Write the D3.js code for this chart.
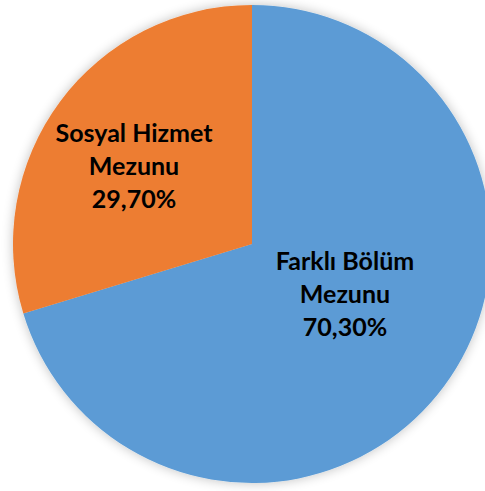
<!DOCTYPE html>
<html>
<head>
<meta charset="utf-8">
<script src="https://cdn.jsdelivr.net/npm/d3@7"></script>
<style>
  body { margin: 0; background: #fff; }
  svg { display: block; }
</style>
</head>
<body>
<div id="chart"></div>
<script>
// chart data
var categories = ["Farklı Bölüm Mezunu", "Sosyal Hizmet Mezunu"];
var values = [70.3, 29.7];
var labelLines = [["Farklı Bölüm", "Mezunu", "70,30%"], ["Sosyal Hizmet", "Mezunu", "29,70%"]];
var colors = ["#5B9BD5", "#ED7D31"];

var width = 485, height = 491;
var cx = 252, cy = 244, radius = 239;

var svg = d3.select("#chart").append("svg")
    .attr("width", width)
    .attr("height", height);

var defs = svg.append("defs");
var shadow = defs.append("filter")
    .attr("id", "shadow")
    .attr("x", "-20%").attr("y", "-20%")
    .attr("width", "140%").attr("height", "140%");
shadow.append("feGaussianBlur").attr("in", "SourceAlpha").attr("stdDeviation", 6).attr("result", "blur");
shadow.append("feComponentTransfer").append("feFuncA").attr("type", "linear").attr("slope", 0.25);
var merge = shadow.append("feMerge");
merge.append("feMergeNode");
merge.append("feMergeNode").attr("in", "SourceGraphic");

var pie = d3.pie().sort(null).value(d => d);
var arc = d3.arc().innerRadius(0).outerRadius(radius);

var g = svg.append("g")
    .attr("transform", "translate(" + cx + "," + cy + ")");

g.append("g")
    .attr("filter", "url(#shadow)")
    .selectAll("path")
    .data(pie(values))
    .enter()
    .append("path")
    .attr("d", arc)
    .attr("fill", (d, i) => colors[i]);

// label centres (middle line baseline), relative to pie centre
var labelPos = [[93, 59], [-118, -69]];
var lineGap = 33;

var labels = g.selectAll("text.lbl")
    .data(pie(values))
    .enter()
    .append("text")
    .attr("class", "lbl")
    .attr("text-anchor", "middle")
    .attr("font-family", "Lato, 'Open Sans', sans-serif")
    .attr("font-weight", "bold")
    .attr("font-size", "25px")
    .attr("fill", "#000");

labels.each(function(d, i) {
    var t = d3.select(this);
    labelLines[i].forEach(function(line, k) {
        t.append("tspan")
            .attr("x", labelPos[i][0])
            .attr("y", labelPos[i][1] + (k - 1) * lineGap)
            .text(line);
    });
});
</script>
</body>
</html>
